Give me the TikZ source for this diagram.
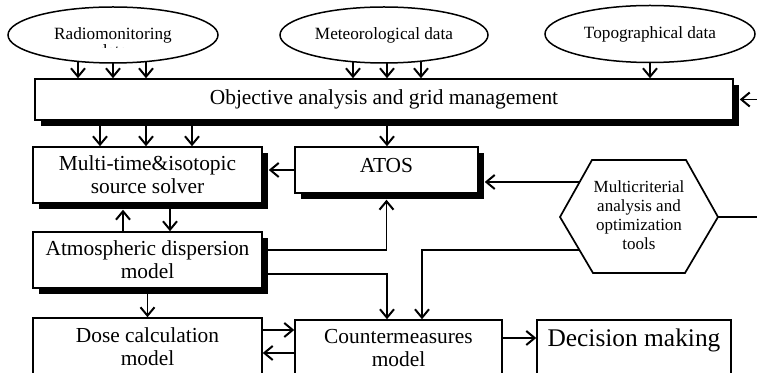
\documentclass[tikz,border=0pt]{standalone}
\usepackage{fontspec}
\setmainfont{Liberation Serif}
\usetikzlibrary{shapes.geometric,shadows,arrows.meta,backgrounds}

\tikzset{
  box/.style={draw, fill=white, line width=0.75pt, inner sep=0pt, align=center,
    font=\fontsize{10.7}{11.5}\selectfont},
  shadowbox/.style={box, drop shadow={shadow xshift=3pt, shadow yshift=-3pt, fill=black, opacity=1}},
  source/.style={draw, ellipse, fill=white, line width=0.75pt, inner sep=0pt,
    font=\fontsize{8.6}{9.5}\selectfont},
  flow/.style={draw, line width=0.85pt, -{Straight Barb[length=4.2pt,width=7pt,line width=1pt]}},
  intoshadow/.style={shorten >=3pt},
}

\begin{document}
\begin{tikzpicture}[x=0.5pt, y=-0.5pt]
    \useasboundingbox (0,0) rectangle (757,373);
    %% data sources
    \node[source, minimum width=105pt, minimum height=28pt] (radio) at (113,35) {Radiomonitoring};
    \node[source, minimum width=104pt, minimum height=28pt] (meteo) at (384,35) {Meteorological data};
    \node[source, minimum width=105pt, minimum height=28.5pt] (topo) at (650,34) {Topographical data};
    \begin{scope}
        \clip (90,43) rectangle (135,48);
        \node[anchor=base, font=\fontsize{8.6}{9.5}\selectfont] (radiodata) at (113,57) {data};
    \end{scope}
    %% models
    \node[shadowbox, minimum width=349pt, minimum height=20.5pt] (obj) at (384,99.5) {Objective analysis and grid management};
    \node[shadowbox, minimum width=114.5pt, minimum height=28pt] (multi) at (147.5,175) {Multi-time\&isotopic\\source solver};
    \node[shadowbox, minimum width=91.5pt, minimum height=23pt, text depth=5pt] (atos) at (386.5,170) {ATOS};
    \node[shadowbox, minimum width=114.5pt, minimum height=28pt] (atmos) at (147.5,260) {Atmospheric dispersion\\model};
    \node[box, minimum width=114.5pt, minimum height=29pt] (dose) at (147.5,347) {Dose calculation\\model};
    \node[box, minimum width=103.5pt, minimum height=28pt] (counter) at (398.5,348) {Countermeasures\\model};
    \node[box, minimum width=97pt, minimum height=30pt, text depth=12.8pt,
        font=\fontsize{12.7}{14}\selectfont] (decision) at (634,350) {Decision making};
    %% hexagon
    \node[align=center, font=\fontsize{8.5}{9.5}\selectfont] (hex) at (639,215) {Multicriterial\\analysis and\\optimization\\tools};
    \draw[line width=0.85pt] (560,217) coordinate (hexW) -- (592,160) -- (686,160)
        -- (718,217) coordinate (hexE) -- (685,273) -- (593,273) -- cycle;
    \coordinate (hexa) at (579.6,182);
    \coordinate (hexb) at (579.4,250);
    %% connectors
    \begin{scope}[on background layer]
        \foreach \x in {78,113,146} \draw[flow] (\x,0 |- radio.center) -- (\x,0 |- obj.north);
        \foreach \x in {353,387,421} \draw[flow] (\x,0 |- meteo.center) -- (\x,0 |- obj.north);
        \draw[flow] (topo.center) -- (topo.center |- obj.north);
        \foreach \x in {100,146,192} \draw[flow] (\x,0 |- obj.south) -- (\x,0 |- multi.north);
        \draw[flow] (387,0 |- obj.south) -- (387,0 |- atos.north);
        \draw[flow, intoshadow] (atos.west) -- (atos.west -| multi.east);
        \draw[flow, intoshadow] (123,0 |- atmos.north) -- (123,0 |- multi.south);
        \draw[flow] (170,0 |- multi.south) -- (170,0 |- atmos.north);
        \draw[flow, intoshadow] (atmos.east |- 0,250) -| (atos.south);
        \draw[flow] (atmos.east |- 0,274) -| (387,0 |- counter.north);
        \draw[flow, intoshadow] (hexa) -- (hexa -| atos.east);
        \draw[flow] (hexb) -| (422,0 |- counter.north);
        \draw[flow, intoshadow] (hexE) -- ++(52,0) |- (obj.east);
        \draw[flow] (atmos.south) -- (dose.north);
        \draw[flow] (dose.east |- 0,330) -- (counter.west |- 0,330);
        \draw[flow] (counter.west |- 0,353) -- (dose.east |- 0,353);
        \draw[flow] (counter.east |- 0,338) -- (decision.west |- 0,338);
    \end{scope}
\end{tikzpicture}
\end{document}
